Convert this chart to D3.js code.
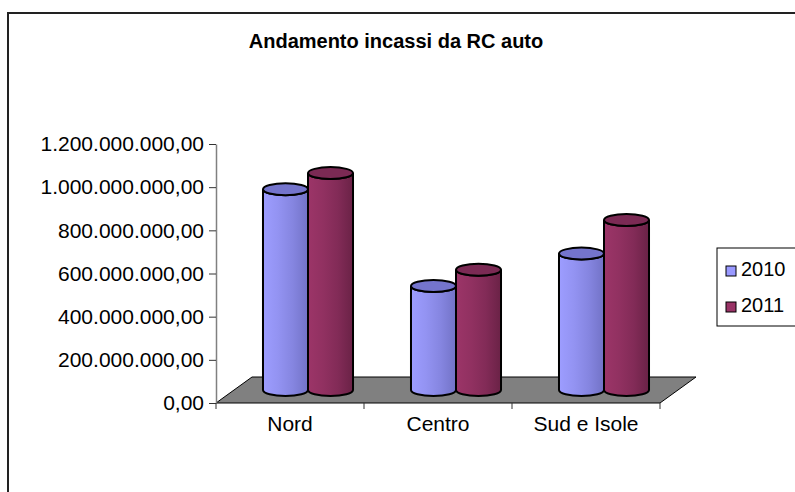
<!DOCTYPE html>
<html>
<head>
<meta charset="utf-8">
<script src="https://cdn.jsdelivr.net/npm/d3@7/dist/d3.min.js"></script>
<style>
  body { margin: 0; background: #fff; }
  text { font-family: "Liberation Sans", Arial, sans-serif; }
</style>
</head>
<body>
<script>
// chart data
const categories = ["Nord", "Centro", "Sud e Isole"];
const series = ["2010", "2011"];
const values2010 = [930000000, 482000000, 632000000];
const values2011 = [1005000000, 557000000, 788000000];
const yTicks = [0, 200000000, 400000000, 600000000, 800000000, 1000000000, 1200000000];

const svgWidth = 795;
const svgHeight = 492;

const seriesValues = { "2010": values2010, "2011": values2011 };
const legendColor = { "2010": "#9999FF", "2011": "#993366" };
const topColor = { "2010": "#7474cc", "2011": "#7b2a54" };
const bodyStops = {
    "2010": ["#9d9dff", "#9393f2", "#8585e0", "#7272c6"],
    "2011": ["#9c3568", "#913161", "#822b57", "#6a2246"]
};

const itLocale = d3.formatLocale({ decimal: ",", thousands: ".", grouping: [3], currency: ["€", ""] });
const fmt = itLocale.format(",.2f");

const svg = d3.select("body")
    .append("svg")
    .attr("width", svgWidth)
    .attr("height", svgHeight);

// gradients for the cylinders
const defs = svg.append("defs");
series.forEach(s => {
    const grad = defs.append("linearGradient")
        .attr("id", "grad" + s)
        .attr("x1", "0%").attr("x2", "100%")
        .attr("y1", "0%").attr("y2", "0%");
    bodyStops[s].forEach((c, i) => {
        grad.append("stop")
            .attr("offset", (i / (bodyStops[s].length - 1) * 100) + "%")
            .attr("stop-color", c);
    });
});

// outer frame
svg.append("rect")
    .attr("x", 8)
    .attr("y", 13)
    .attr("width", 820)
    .attr("height", 520)
    .style("fill", "none")
    .style("stroke", "#222")
    .style("stroke-width", 2);

svg.append("text")
    .attr("x", 396)
    .attr("y", 48)
    .attr("text-anchor", "middle")
    .style("font-size", "20px")
    .style("font-weight", "bold")
    .text("Andamento incassi da RC auto");

const x = d3.scaleBand()
    .domain(categories)
    .range([216, 660]);

const x1 = d3.scaleBand()
    .domain(series)
    .range([0, x.bandwidth()])
    .paddingOuter(0.644);

const y = d3.scaleLinear()
    .domain([0, 1200000000])
    .range([403, 144]);

const depthX = 36;
const depthY = -26;
const y0 = y(0);

// floor
const [fx0, fx1] = x.range();
svg.append("polygon")
    .attr("points", [
        [fx0, y0], [fx1, y0], [fx1 + depthX, y0 + depthY], [fx0 + depthX, y0 + depthY]
    ].map(p => p.join(",")).join(" "))
    .style("fill", "#808080")
    .style("stroke", "#000")
    .style("stroke-width", 1);

// y axis
const yAxis = svg.append("g")
    .attr("transform", "translate(216,0)")
    .call(d3.axisLeft(y)
        .tickValues(yTicks)
        .tickFormat(fmt)
        .tickSize(7)
        .tickSizeOuter(0)
        .tickPadding(5));
yAxis.select(".domain").style("stroke", "#808080").style("stroke-width", 1.5);
yAxis.selectAll(".tick line").style("stroke", "#333");
yAxis.selectAll(".tick text")
    .style("font-size", "21px")
    .style("fill", "#000")
    .style("font-family", "'Liberation Sans', Arial, sans-serif");

// category axis ticks along the front edge of the floor
const bounds = categories.map(c => x(c)).concat([fx1]);
svg.selectAll(".cat-tick")
    .data(bounds)
    .enter()
    .append("line")
    .attr("class", "cat-tick")
    .attr("x1", d => d).attr("x2", d => d)
    .attr("y1", y0).attr("y2", y0 + 6)
    .style("stroke", "#333");

svg.selectAll(".cat-label")
    .data(categories)
    .enter()
    .append("text")
    .attr("class", "cat-label")
    .attr("x", d => x(d) + x.bandwidth() / 2)
    .attr("y", 431)
    .attr("text-anchor", "middle")
    .style("font-size", "21px")
    .text(d => d);

// cylinders
const bars = [];
categories.forEach((c, i) => {
    series.forEach(s => bars.push({ cat: c, s: s, v: seriesValues[s][i] }));
});

const ry = 6;
const cyl = svg.selectAll(".cyl")
    .data(bars)
    .enter()
    .append("g")
    .attr("class", "cyl");

cyl.append("path")
    .attr("d", d => {
        const l = x(d.cat) + x1(d.s) + depthX / 2;
        const r = l + x1.bandwidth();
        const rx = x1.bandwidth() / 2;
        const top = y(d.v) + depthY / 2;
        const base = y0 + depthY / 2;
        return `M${l},${top} L${l},${base} A${rx},${ry} 0 0 0 ${r},${base} L${r},${top} A${rx},${ry} 0 0 1 ${l},${top} Z`;
    })
    .style("fill", d => `url(#grad${d.s})`)
    .style("stroke", "#000")
    .style("stroke-width", 2);

cyl.append("ellipse")
    .attr("cx", d => x(d.cat) + x1(d.s) + depthX / 2 + x1.bandwidth() / 2)
    .attr("cy", d => y(d.v) + depthY / 2)
    .attr("rx", x1.bandwidth() / 2)
    .attr("ry", ry)
    .style("fill", d => topColor[d.s])
    .style("stroke", "#000")
    .style("stroke-width", 2);

// legend
const legend = svg.append("g");
legend.append("rect")
    .attr("x", 717)
    .attr("y", 248)
    .attr("width", 100)
    .attr("height", 78)
    .style("fill", "#fff")
    .style("stroke", "#000");

const items = legend.selectAll(".item")
    .data(series)
    .enter()
    .append("g")
    .attr("transform", (d, i) => `translate(726,${266 + i * 36})`);

items.append("rect")
    .attr("width", 10)
    .attr("height", 10)
    .style("fill", d => legendColor[d])
    .style("stroke", "#000");

items.append("text")
    .attr("x", 15)
    .attr("y", 10)
    .style("font-size", "20px")
    .text(d => d);
</script>
</body>
</html>
